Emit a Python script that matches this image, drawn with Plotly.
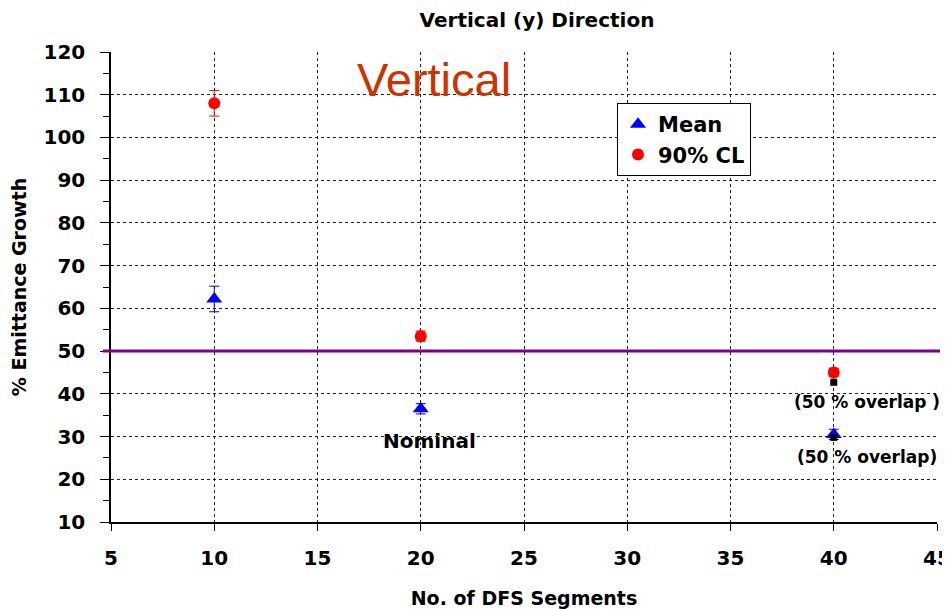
import plotly.graph_objects as go

segments = [10, 20, 40]
mean_vals = [62.2, 36.5, 30.5]
mean_err = [3.0, 1.2, 1.2]
cl_vals = [108.0, 53.5, 45.0]
cl_err = [3.0, 1.2, 1.0]
overlap_x = [40, 40]
overlap_vals = [42.7, 29.8]
threshold = 50
x_ticks = [5, 10, 15, 20, 25, 30, 35, 40, 45]
y_ticks = [10, 20, 30, 40, 50, 60, 70, 80, 90, 100, 110, 120]

BOLD = "DejaVu Sans, Liberation Sans, Arial, sans-serif"
ARIAL = "Liberation Sans, Arial, sans-serif"

fig = go.Figure()
fig.add_trace(go.Scatter(
    x=segments, y=mean_vals, mode="markers", name="Mean",
    marker=dict(symbol="triangle-up", size=14, color="#0000FF"),
    error_y=dict(type="data", array=mean_err, color="#0000FF", thickness=1, width=5),
))
fig.add_trace(go.Scatter(
    x=segments, y=cl_vals, mode="markers", name="90% CL",
    marker=dict(symbol="circle", size=12, color="#FF0000"),
    error_y=dict(type="data", array=cl_err, color="#FF0000", thickness=1, width=5),
))
fig.add_trace(go.Scatter(
    x=overlap_x, y=overlap_vals, mode="markers", showlegend=False,
    marker=dict(symbol="square", size=7, color="#000000"),
))

fig.add_shape(type="line", xref="paper", yref="y", x0=-0.0097, x1=1.0036,
              y0=threshold, y1=threshold, line=dict(color="#800080", width=3))

fig.add_annotation(x=20.64, y=113.6, text="Vertical", showarrow=False,
                   font=dict(family=ARIAL, size=47, color="#CC3300"))
fig.add_annotation(x=20.4, y=29, text="Nominal", showarrow=False,
                   font=dict(family=BOLD, size=20, color="#000000", weight="bold"))
fig.add_annotation(x=41.63, y=38.1, text="(50 % overlap )", showarrow=False, xanchor="center",
                   font=dict(family=BOLD, size=17, color="#000000", weight="bold"))
fig.add_annotation(x=41.63, y=25.2, text="(50 % overlap)", showarrow=False, xanchor="center",
                   font=dict(family=BOLD, size=17, color="#000000", weight="bold"))

fig.update_layout(
    width=942, height=601,
    margin=dict(l=103, r=13, t=44, b=87),
    paper_bgcolor="white", plot_bgcolor="white",
    title=dict(text="Vertical (y) Direction", x=0.5616, xanchor="center",
               yref="container", y=0.98, yanchor="middle",
               font=dict(family=BOLD, size=20, color="#000000", weight="bold")),
    font=dict(family=BOLD, color="#000000"),
    legend=dict(x=0.6126, y=0.8915, xanchor="left", yanchor="top",
                bordercolor="#000000", borderwidth=1, bgcolor="white",
                font=dict(size=21, family=BOLD, weight="bold"),
                itemwidth=30, tracegroupgap=2),
    xaxis=dict(range=[5, 45], tickvals=x_ticks, showgrid=True, gridcolor="#222222",
               griddash="3px,3px", gridwidth=1, showline=True, linecolor="#000000", linewidth=1.5,
               ticks="outside", ticklen=7, tickcolor="#000000", zeroline=False, automargin=False,
               ticklabelstandoff=10, ticklabeloverflow="allow",
               tickfont=dict(size=20, family=BOLD, weight="bold"),
               title=dict(text="No. of DFS Segments", font=dict(size=19, family=BOLD, weight="bold"), standoff=26)),
    yaxis=dict(range=[10, 120], tickvals=y_ticks, showgrid=True, gridcolor="#222222",
               griddash="3px,3px", gridwidth=1, showline=True, linecolor="#000000", linewidth=1.5,
               ticks="outside", ticklen=9, tickcolor="#000000", zeroline=False, automargin=False,
               ticklabelstandoff=11, ticklabeloverflow="allow",
               minor=dict(dtick=5, ticks="outside", ticklen=6, tickcolor="#000000", showgrid=False),
               tickfont=dict(size=20, family=BOLD, weight="bold"),
               title=dict(text="% Emittance Growth", font=dict(size=19, family=BOLD, weight="bold"), standoff=14)),
)

fig.write_html("out.html")
